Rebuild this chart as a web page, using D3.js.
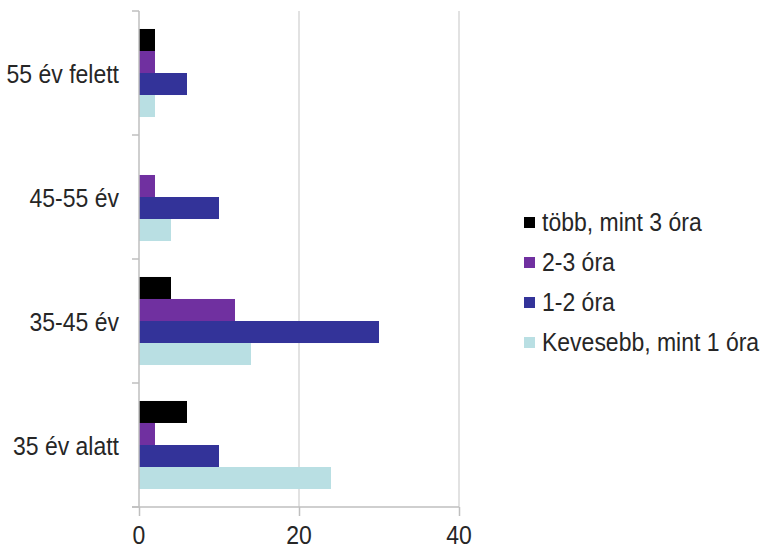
<!DOCTYPE html>
<html><head><meta charset="utf-8">
<script src="https://cdn.jsdelivr.net/npm/d3@7"></script>
<style>body{margin:0;background:#fff}svg{display:block}text{font-family:"Liberation Sans",Arial,sans-serif;fill:#262626}</style>
</head><body><svg id="c" width="760" height="550"></svg>
<script>
const categories = ["55 év felett", "45-55 év", "35-45 év", "35 év alatt"];
const seriesNames = ["több, mint 3 óra", "2-3 óra", "1-2 óra", "Kevesebb, mint 1 óra"];
const seriesColors = ["#000000", "#7030a0", "#333399", "#b9dfe3"];
const tobbMint3 = [2, 0, 4, 6];
const ora23 = [2, 2, 12, 2];
const ora12 = [6, 10, 30, 10];
const kevesebbMint1 = [2, 4, 14, 24];
const xTicks = [0, 20, 40];

const seriesValues = [tobbMint3, ora23, ora12, kevesebbMint1];
const svg = d3.select("#c");
const x = d3.scaleLinear().domain([0, 40]).range([139, 459]);
const y = d3.scaleBand().domain(categories).range([11, 507]).paddingInner(0.29).paddingOuter(0.145);
const ys = d3.scaleBand().domain(d3.range(4)).range([0, y.bandwidth()]);
const SY = 1.1;
function label(g, tx, ty, str, anchor) {
  return g.append("text").attr("transform", `translate(${tx},${ty}) scale(1,${SY})`)
    .attr("text-anchor", anchor).attr("font-size", 23).text(str);
}

// gridlines
svg.append("g").selectAll("line").data(xTicks.filter(d => d > 0)).join("line")
  .attr("x1", d => x(d)).attr("x2", d => x(d)).attr("y1", 11).attr("y2", 507)
  .attr("stroke", "#d9d9d9").attr("stroke-width", 1.5);

// bars
categories.forEach((c, ci) => {
  seriesValues.forEach((vals, si) => {
    if (vals[ci] <= 0) return;
    svg.append("rect")
      .attr("x", x(0)).attr("y", y(c) + ys(si))
      .attr("width", x(vals[ci]) - x(0)).attr("height", ys.bandwidth())
      .attr("fill", seriesColors[si]);
  });
});

// y axis
const yAxisG = svg.append("g");
yAxisG.append("line").attr("x1", 139).attr("x2", 139).attr("y1", 11).attr("y2", 507)
  .attr("stroke", "#bfbfbf").attr("stroke-width", 1.5);
const bounds = categories.map(c => y(c) - y.step() * 0.145).concat([507]);
yAxisG.selectAll("line.t").data(bounds).join("line").attr("class", "t")
  .attr("x1", 132).attr("x2", 139).attr("y1", d => d).attr("y2", d => d)
  .attr("stroke", "#bfbfbf").attr("stroke-width", 1.5);
const catG = svg.append("g");
categories.forEach(c => label(catG, 119, y(c) + y.bandwidth() / 2 + 9.5, c, "end"));

// x axis
const xAxis = d3.axisBottom(x).tickValues(xTicks).tickSize(9).tickFormat(() => "");
const xg = svg.append("g").attr("transform", "translate(0,507)").call(xAxis);
xg.select(".domain").attr("d", "M132,0H459").attr("stroke", "#bfbfbf").attr("stroke-width", 1.5);
xg.selectAll(".tick line").attr("stroke", "#bfbfbf").attr("stroke-width", 1.5);
xg.selectAll(".tick text").remove();
const xl = svg.append("g");
xTicks.forEach(t => label(xl, x(t), 544, d3.format("d")(t), "middle"));

// legend
const lg = svg.append("g");
seriesNames.forEach((n, i) => {
  const cy = 222 + i * 40;
  lg.append("rect").attr("x", 524).attr("y", cy - 5).attr("width", 11).attr("height", 11).attr("fill", seriesColors[i]);
  label(lg, 542, cy + 9, n, "start");
});
</script></body></html>
